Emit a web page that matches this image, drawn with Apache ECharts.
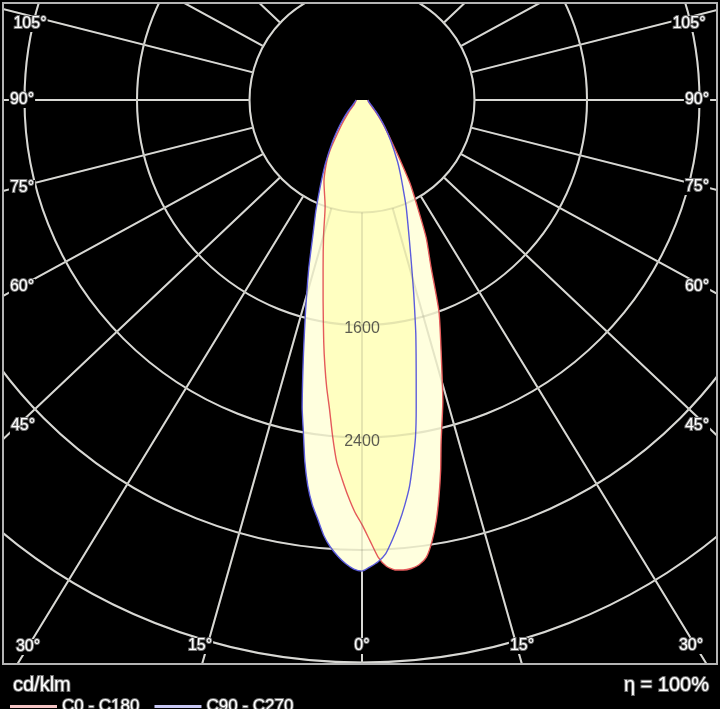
<!DOCTYPE html>
<html><head><meta charset="utf-8">
<script src="https://cdn.jsdelivr.net/npm/echarts@6/dist/echarts.min.js"></script>
<style>html,body{margin:0;padding:0;background:#000;overflow:hidden}#c{width:720px;height:709px}</style>
</head><body><div id="c"></div>
<script>
// ---- data (cd/klm), gamma angle in degrees: negative = C180 / C270 side (left), positive = C0 / C90 side (right)
const anglesC0 = [-90,-75,-60,-50,-45,-40,-35,-32.5,-30,-25,-20,-19,-16,-13,-11,-9,-8,-7,-6,-5,-4,-3,-2,-1,0,1,2,3,4,5,6,7,8,9,10,11,12,13,15,17.5,20,22.5,25,27.5,30,32.5,35,40,45,50,60,75,90];
const valuesC0 = [40,48,65,110,150,220,330,420,500,640,770,806,990,1230,1450,1740,1900,2060,2210,2400,2580,2700,2820,2930,3020,3130,3250,3320,3350,3355,3350,3330,3285,3180,3040,2870,2690,2500,2220,1870,1600,1280,1080,850,680,500,380,250,170,120,70,48,40];
const anglesC90 = [-90,-75,-60,-50,-45,-40,-35,-30,-27.5,-25,-22.5,-20,-17.5,-15,-14,-13,-12,-11,-10,-9,-8,-7,-6,-5,-4,-3,-2,-1,0,1,2,3,4,5,6,7,8,9,10,11,12,13,14,15,17.5,20,22.5,25,27.5,30,35,40,45,50,60,75,90];
const valuesC90 = [42,52,80,135,185,260,370,520,610,720,860,1020,1260,1550,1690,1850,2030,2230,2400,2600,2770,2900,3000,3110,3190,3250,3300,3336,3350,3320,3285,3230,3130,3020,2900,2770,2600,2430,2220,2020,1850,1700,1550,1420,1150,960,820,690,590,505,360,255,180,130,78,50,42];
const ringValues = [1600, 2400];            // radial labels shown on the diagram
const spokeAngles = [-180,-165,-150,-135,-120,-105,-90,-75,-60,-45,-30,-15,0,15,30,45,60,75,90,105,120,135,150,165,180];
const angleTickLabels = ['105°','90°','75°','60°','45°','30°','15°','0°','15°','30°','45°','60°','75°','90°','105°'];
const seriesNames = ['C0 - C180', 'C90 - C270'];
const unitLabel = 'cd/klm';
const effLabel = 'η = 100%';

// ---- layout
const FONT = "'Liberation Sans', Arial, sans-serif";
const CENTER = [362, 100];
const PX_PER_CD = 112.5 / 800;
const RMAX = 4800;
const SPOKE_ASPECT = 1.058;   // the reference draws its spokes with a slightly wider aspect than its circles
const labelPos = [[30,24],[22,100],[22,188],[22,287],[23,426],[28,647],[200,646],[362,646],[522,646],[691,646],[697,426],[697,287],[697,187],[697,100],[689,24]];

const spokeDrawn = spokeAngles.map(a => {
  const t = a * Math.PI / 180;
  return Math.atan2(SPOKE_ASPECT * Math.sin(t), Math.cos(t)) * 180 / Math.PI;
});

function pairs(vals, angs) { return vals.map((v, i) => [v, angs[i]]); }

const chart = echarts.init(document.getElementById('c'), null, {renderer: 'canvas'});

const angleBase = {type: 'value', min: -180, max: 180, interval: 15, startAngle: 90, clockwise: false,
  axisLine: {show: false}, axisLabel: {show: false}};
const radiusBase = {type: 'value', max: RMAX, interval: 800,
  axisLine: {show: false}, axisTick: {show: false}, axisLabel: {show: false}};

const txt = (text, x, y, align, size) => ({
  type: 'text', z: 102, silent: true,
  style: {text: text, x: x, y: y, align: align, verticalAlign: 'middle', font: size + 'px ' + FONT,
    fill: '#ffffff', stroke: '#707070', lineWidth: 2, backgroundColor: '#000', padding: [0, 1]}
});

const graphics = [
  {type: 'rect', z: 100, silent: true, shape: {x: 0, y: 0, width: 720, height: 3}, style: {fill: '#000'}},
  {type: 'rect', z: 100, silent: true, shape: {x: 0, y: 0, width: 3, height: 709}, style: {fill: '#000'}},
  {type: 'rect', z: 100, silent: true, shape: {x: 717, y: 0, width: 3, height: 709}, style: {fill: '#000'}},
  {type: 'rect', z: 100, silent: true, shape: {x: 0, y: 664, width: 720, height: 45}, style: {fill: '#000'}},
  {type: 'rect', z: 101, silent: true, shape: {x: 3, y: 3, width: 714, height: 661}, style: {fill: null, stroke: '#b4b4b4', lineWidth: 2}}
];
angleTickLabels.forEach((t, i) => graphics.push(txt(t, labelPos[i][0], labelPos[i][1], 'center', 16)));
graphics.push(txt(unitLabel, 12, 685, 'left', 20));
graphics.push(txt(effLabel, 710, 685, 'right', 20));

const gridLine = {color: '#f0f0f0', width: 2};
const overLine = {color: 'rgba(110,110,90,0.18)', width: 2};

const option = {
  backgroundColor: '#000',
  animation: false,
  polar: [
    {center: CENTER, radius: [0, RMAX * PX_PER_CD]},
    {center: CENTER, radius: [800 * PX_PER_CD, RMAX * PX_PER_CD]},
    {center: CENTER, radius: [800 * PX_PER_CD, RMAX * PX_PER_CD]}
  ],
  angleAxis: [
    Object.assign({}, angleBase, {polarIndex: 0, axisTick: {show: false}, splitLine: {show: false}}),
    Object.assign({}, angleBase, {polarIndex: 1, z: 0, axisTick: {show: false, customValues: spokeDrawn}, splitLine: {show: true, lineStyle: gridLine}}),
    Object.assign({}, angleBase, {polarIndex: 2, z: 3, axisTick: {show: false, customValues: spokeDrawn}, splitLine: {show: true, lineStyle: overLine}})
  ],
  radiusAxis: [
    Object.assign({}, radiusBase, {polarIndex: 0, min: 0, splitLine: {show: false}}),
    Object.assign({}, radiusBase, {polarIndex: 1, min: 800, z: 0, splitLine: {show: true, lineStyle: gridLine}}),
    Object.assign({}, radiusBase, {polarIndex: 2, min: 800, z: 3, splitLine: {show: true, lineStyle: overLine}})
  ],
  legend: {
    z: 110, left: 5, top: 692, icon: 'rect', itemWidth: 47, itemHeight: 3, itemGap: 14,
    data: [{name: seriesNames[0], itemStyle: {color: '#f4c4c4'}}, {name: seriesNames[1], itemStyle: {color: '#c8c8f4'}}],
    textStyle: {color: '#fff', fontSize: 17, fontFamily: FONT, textBorderColor: '#707070', textBorderWidth: 2}
  },
  graphic: graphics,
  series: [
    {type: 'line', name: 'base0', coordinateSystem: 'polar', polarIndex: 0, data: pairs(valuesC0, anglesC0),
      symbol: 'none', silent: true, z: 2, smooth: 0.2, lineStyle: {width: 0}, areaStyle: {color: '#ffffff', opacity: 1}},
    {type: 'line', name: 'base1', coordinateSystem: 'polar', polarIndex: 0, data: pairs(valuesC90, anglesC90),
      symbol: 'none', silent: true, z: 2, smooth: 0.2, lineStyle: {width: 0}, areaStyle: {color: '#ffffff', opacity: 1}},
    {type: 'line', name: seriesNames[0], coordinateSystem: 'polar', polarIndex: 0, data: pairs(valuesC0, anglesC0),
      symbol: 'none', z: 2, smooth: 0.2, color: '#e45a5a', lineStyle: {color: '#e45a5a', width: 1.4},
      areaStyle: {color: 'rgba(255,255,0,0.13)', opacity: 1}},
    {type: 'line', name: seriesNames[1], coordinateSystem: 'polar', polarIndex: 0, data: pairs(valuesC90, anglesC90),
      symbol: 'none', z: 2, smooth: 0.2, color: '#5c5cdc', lineStyle: {color: '#5c5cdc', width: 1.4},
      areaStyle: {color: 'rgba(255,255,0,0.13)', opacity: 1}},
    {type: 'scatter', name: 'rings', coordinateSystem: 'polar', polarIndex: 0, data: ringValues.map(v => [v, 0]),
      symbol: 'circle', symbolSize: 1, itemStyle: {color: 'rgba(0,0,0,0)'}, z: 5, silent: true,
      label: {show: true, position: 'inside', offset: [0, 4], formatter: p => String(p.value[0]), color: '#333', fontSize: 16, fontFamily: FONT}}
  ]
};
chart.setOption(option);
</script></body></html>
